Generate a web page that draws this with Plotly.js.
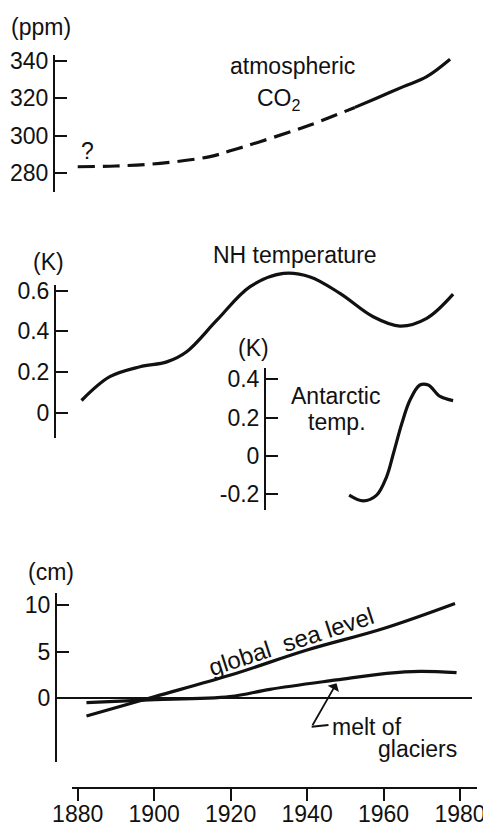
<!DOCTYPE html>
<html>
<head>
<meta charset="utf-8">
<script src="https://cdn.plot.ly/plotly-3.0.1.min.js"></script>
<style>html,body{margin:0;padding:0;background:#fff;}#chart{width:483px;height:829px;}</style>
</head>
<body>
<div id="chart"></div>
<script>
// ---- data ----
const yearTicks = [1880, 1900, 1920, 1940, 1960, 1980];
const yearTickText = ['1880', '1900', '1920', '1940', '1960', '1980'];

const co2DashedYears = [1880, 1890, 1901.5, 1914.6, 1920.6, 1927.7, 1940.8, 1952.5];
const co2DashedPpm   = [283.5, 283.9, 285.3, 288.9, 292.4, 296.9, 305.8, 315.2];
const co2SolidYears  = [1952.5, 1958, 1965.2, 1971.3, 1977.4];
const co2SolidPpm    = [315.2, 320.0, 326.3, 331.6, 340.9];
const co2Ticks = [280, 300, 320, 340];
const co2TickText = ['280', '300', '320', '340'];

const nhYears = [1881, 1888.4, 1896.3, 1903.3, 1908.5, 1916.4, 1925.1, 1933.8, 1940.8, 1948.6, 1957.3, 1964.3, 1971.3, 1978.2];
const nhK     = [0.06, 0.177, 0.226, 0.25, 0.30, 0.455, 0.62, 0.685, 0.668, 0.587, 0.472, 0.426, 0.464, 0.583];
const nhTicks = [0, 0.2, 0.4, 0.6];
const nhTickText = ['0', '0.2', '0.4', '0.6'];

const antYears = [1951.0, 1954.7, 1958.2, 1960.8, 1962.6, 1964.8, 1966.9, 1969.5, 1971.7, 1974.8, 1978.2];
const antK     = [-0.206, -0.236, -0.206, -0.11, 0.013, 0.17, 0.29, 0.37, 0.37, 0.31, 0.288];
const antTicks = [-0.2, 0, 0.2, 0.4];
const antTickText = ['-0.2', '0', '0.2', '0.4'];

const seaYears = [1882.3, 1900, 1920, 1940, 1960, 1978.7];
const seaCm    = [-1.94, 0.14, 2.48, 5.18, 7.5, 10.2];
const meltYears = [1882.3, 1897.2, 1919.8, 1930.3, 1947.7, 1960.8, 1969.5, 1979.1];
const meltCm    = [-0.5, -0.22, 0.14, 0.94, 1.95, 2.66, 2.88, 2.73];
const seaTicks = [0, 5, 10];
const seaTickText = ['0', '5', '10'];

// ---- layout helpers ----
const W = 483, H = 829;
const px = x => x / W;
const py = y => 1 - y / H;
const INK = '#111';
const FONT = 'Liberation Sans, Arial, sans-serif';
const lineStyle = {color: INK, width: 3.2, shape: 'spline', smoothing: 1};

// pixel scale of NH panel: 0 K at y=412.7 px, 203.3 px per K
const NH_ZERO = 412.7, NH_SCALE = 203.3;

const traces = [
  {x: co2DashedYears, y: co2DashedPpm, xaxis: 'x', yaxis: 'y', mode: 'lines',
   line: Object.assign({}, lineStyle, {dash: '17px,8px'})},
  {x: co2SolidYears, y: co2SolidPpm, xaxis: 'x', yaxis: 'y', mode: 'lines', line: lineStyle},
  // empty trace so the visible NH axis (y2) gets its subplot drawn
  {x: [], y: [], xaxis: 'x', yaxis: 'y2', mode: 'lines', hoverinfo: 'skip'},
  {x: nhYears, y: nhK, xaxis: 'x', yaxis: 'y5', mode: 'lines', line: lineStyle},
  {x: antYears, y: antK, xaxis: 'x', yaxis: 'y3', mode: 'lines', line: lineStyle},
  {x: seaYears, y: seaCm, xaxis: 'x', yaxis: 'y4', mode: 'lines', line: lineStyle},
  {x: meltYears, y: meltCm, xaxis: 'x', yaxis: 'y4', mode: 'lines', line: lineStyle}
];

function yAxis(domain, range, pos, vals, text) {
  return {
    domain: domain, range: range, anchor: 'free', position: pos, side: 'left',
    showline: true, linecolor: INK, linewidth: 2,
    ticks: 'inside', ticklen: 12, tickwidth: 2, tickcolor: INK,
    tickvals: vals, ticktext: text, tickfont: {size: 23, color: INK, family: FONT},
    showgrid: false, zeroline: false, fixedrange: true
  };
}

const layout = {
  width: W, height: H,
  margin: {l: 0, r: 0, t: 0, b: 0, pad: 0},
  paper_bgcolor: '#fff', plot_bgcolor: 'rgba(0,0,0,0)',
  showlegend: false,
  font: {family: FONT, color: INK, size: 23},
  xaxis: {
    domain: [px(71.7), px(476.7)], range: [1878.43, 1984.37],
    anchor: 'free', position: py(788.3),
    showline: true, linecolor: INK, linewidth: 2,
    ticks: 'outside', ticklen: 12, tickwidth: 2, tickcolor: INK,
    tickvals: yearTicks, ticktext: yearTickText, tickfont: {size: 23, color: INK, family: FONT},
    ticklabeloverflow: 'allow', ticklabelstandoff: -7,
    showgrid: false, zeroline: false, fixedrange: true
  },
  yaxis:  yAxis([py(192), py(55)], [270.0, 343.2], px(54), co2Ticks, co2TickText),
  yaxis2: yAxis([py(438), py(285)], [-(438 - NH_ZERO) / NH_SCALE, (NH_ZERO - 285) / NH_SCALE], px(55), nhTicks, nhTickText),
  yaxis3: yAxis([py(510), py(368)], [-0.2837, 0.459], px(265), antTicks, antTickText),
  yaxis4: yAxis([py(762), py(593)], [-6.904, 11.33], px(56), seaTicks, seaTickText),
  // hidden axis with the same scale as yaxis2 but taller, so the NH curve is not clipped
  yaxis5: {domain: [py(438), py(255)], range: [-(438 - NH_ZERO) / NH_SCALE, (NH_ZERO - 255) / NH_SCALE],
           anchor: 'free', position: px(55), visible: false, fixedrange: true},
  shapes: [
    {type: 'line', xref: 'paper', yref: 'y4', x0: px(56), x1: px(472), y0: 0, y1: 0,
     line: {color: INK, width: 2}},
    {type: 'line', xref: 'x', yref: 'y4', x0: 1941.2, y0: -3.1, x1: 1945.6, y1: -2.91,
     line: {color: INK, width: 1.8}}
  ],
  annotations: []
};

function label(text, x, y, opts) {
  layout.annotations.push(Object.assign({
    text: text, xref: 'paper', yref: 'paper', x: px(x), y: py(y),
    xanchor: 'center', yanchor: 'middle', showarrow: false,
    font: {size: 23, color: INK, family: FONT}
  }, opts || {}));
}

label('(ppm)', 41, 27);
label('atmospheric', 292, 66);
label('CO<sub>2</sub>', 279, 100);
label('?', 87, 151);
label('(K)', 48, 262);
label('NH temperature', 295, 255);
label('(K)', 253, 348);
label('Antarctic', 335, 396);
label('temp.', 337, 422);
label('(cm)', 51, 572);
label('global  sea level', 291, 641, {textangle: -18, font: {size: 24, color: INK, family: FONT}});
label('melt of', 367, 727);
label('glaciers', 417, 749);

// pointer arrow from "melt of" to the glacier curve
layout.annotations.push({
  xref: 'x', yref: 'y4', axref: 'x', ayref: 'y4',
  x: 1947.7, y: 1.59, ax: 1941.2, ay: -3.1,
  text: '', showarrow: true, arrowhead: 1, arrowsize: 1.2, arrowwidth: 1.8,
  arrowcolor: INK, standoff: 0, startstandoff: 0
});

Plotly.newPlot('chart', traces, layout, {staticPlot: true, displayModeBar: false});
</script>
</body>
</html>
